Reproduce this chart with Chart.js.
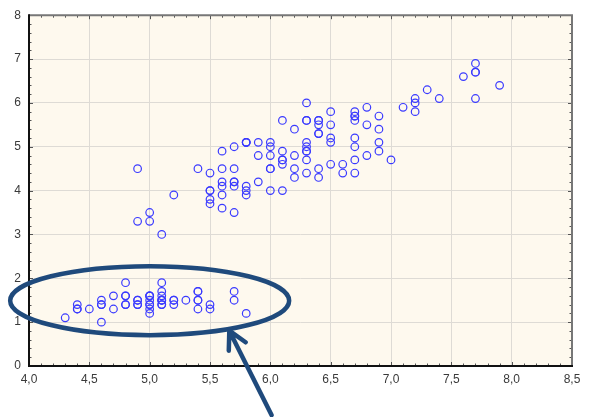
<!DOCTYPE html>
<html>
<head>
<meta charset="utf-8">
<script src="https://cdn.jsdelivr.net/npm/chart.js@4"></script>
<style>
  html, body { margin: 0; padding: 0; background: #ffffff; }
  #wrap { width: 591px; height: 417px; position: relative; }
</style>
</head>
<body>
<div id="wrap"><canvas id="grafico"></canvas></div>
<script>
// Iris: longitud del sépalo (x) y del pétalo (y)
const longSepalo = [
  5.1, 4.9, 4.7, 4.6, 5.0, 5.4, 4.6, 5.0, 4.4, 4.9, 5.4, 4.8, 4.8, 4.3, 5.8, 5.7, 5.4, 5.1, 5.7, 5.1,
  5.4, 5.1, 4.6, 5.1, 4.8, 5.0, 5.0, 5.2, 5.2, 4.7, 4.8, 5.4, 5.2, 5.5, 4.9, 5.0, 5.5, 4.9, 4.4, 5.1,
  5.0, 4.5, 4.4, 5.0, 5.1, 4.8, 5.1, 4.6, 5.3, 5.0,
  7.0, 6.4, 6.9, 5.5, 6.5, 5.7, 6.3, 4.9, 6.6, 5.2, 5.0, 5.9, 6.0, 6.1, 5.6, 6.7, 5.6, 5.8, 6.2, 5.6,
  5.9, 6.1, 6.3, 6.1, 6.4, 6.6, 6.8, 6.7, 6.0, 5.7, 5.5, 5.5, 5.8, 6.0, 5.4, 6.0, 6.7, 6.3, 5.6, 5.5,
  5.5, 6.1, 5.8, 5.0, 5.6, 5.7, 5.7, 6.2, 5.1, 5.7,
  6.3, 5.8, 7.1, 6.3, 6.5, 7.6, 4.9, 7.3, 6.7, 7.2, 6.5, 6.4, 6.8, 5.7, 5.8, 6.4, 6.5, 7.7, 7.7, 6.0,
  6.9, 5.6, 7.7, 6.3, 6.7, 7.2, 6.2, 6.1, 6.4, 7.2, 7.4, 7.9, 6.4, 6.3, 6.1, 7.7, 6.3, 6.4, 6.0, 6.9,
  6.7, 6.9, 5.8, 6.8, 6.7, 6.7, 6.3, 6.5, 6.2, 5.9
];
const longPetalo = [
  1.4, 1.4, 1.3, 1.5, 1.4, 1.7, 1.4, 1.5, 1.4, 1.5, 1.5, 1.6, 1.4, 1.1, 1.2, 1.5, 1.3, 1.4, 1.7, 1.5,
  1.7, 1.5, 1.0, 1.7, 1.9, 1.6, 1.6, 1.5, 1.4, 1.6, 1.6, 1.5, 1.5, 1.4, 1.5, 1.2, 1.3, 1.4, 1.3, 1.5,
  1.3, 1.3, 1.3, 1.6, 1.9, 1.4, 1.6, 1.4, 1.5, 1.4,
  4.7, 4.5, 4.9, 4.0, 4.6, 4.5, 4.7, 3.3, 4.6, 3.9, 3.5, 4.2, 4.0, 4.7, 3.6, 4.4, 4.5, 4.1, 4.5, 3.9,
  4.8, 4.0, 4.9, 4.7, 4.3, 4.4, 4.8, 5.0, 4.5, 3.5, 3.8, 3.7, 3.9, 5.1, 4.5, 4.5, 4.7, 4.4, 4.1, 4.0,
  4.4, 4.6, 4.0, 3.3, 4.2, 4.2, 4.2, 4.3, 3.0, 4.1,
  6.0, 5.1, 5.9, 5.6, 5.8, 6.6, 4.5, 6.3, 5.8, 6.1, 5.1, 5.3, 5.5, 5.0, 5.1, 5.3, 5.5, 6.7, 6.9, 5.0,
  5.7, 4.9, 6.7, 4.9, 5.7, 6.0, 4.8, 4.9, 5.6, 5.8, 6.1, 6.4, 5.6, 5.1, 5.6, 6.1, 5.6, 5.5, 4.8, 5.4,
  5.6, 5.1, 5.1, 5.9, 5.7, 5.2, 5.0, 5.2, 5.4, 5.1
];
const ticksX = [4.0, 4.5, 5.0, 5.5, 6.0, 6.5, 7.0, 7.5, 8.0, 8.5];
const ticksY = [0, 1, 2, 3, 4, 5, 6, 7, 8];

// Anotación: elipse alrededor del grupo inferior y flecha
const elipse = { cx: 5.0, cy: 1.49, rx: 1.156, ry: 0.786 };
const flecha = { desde: [6.01, -1.12], hasta: [5.66, 0.805] };

const puntos = longSepalo.map((x, i) => ({ x: x, y: longPetalo[i] }));

const coma = v => v.toFixed(1).replace('.', ',');

const marco = {
  id: 'marco',
  beforeDraw(chart) {
    const { ctx, chartArea: a } = chart;
    ctx.save();
    ctx.fillStyle = '#fef9ee';
    ctx.fillRect(a.left, a.top, a.right - a.left, a.bottom - a.top);
    ctx.restore();
  },
  afterDatasetsDraw(chart) {
    const { ctx, chartArea: a, scales } = chart;
    const sx = scales.x, sy = scales.y;
    ctx.save();
    // marcas menores
    ctx.lineWidth = 1;
    ctx.strokeStyle = '#555555';
    for (let i = 40; i <= 85; i++) {
      const px = Math.round(sx.getPixelForValue(i / 10)) + 0.5;
      const len = i % 5 === 0 ? 4 : 2.5;
      ctx.beginPath();
      ctx.moveTo(px, a.bottom); ctx.lineTo(px, a.bottom - len);
      ctx.moveTo(px, a.top); ctx.lineTo(px, a.top + len);
      ctx.stroke();
    }
    for (let i = 0; i <= 40; i++) {
      const py = Math.round(sy.getPixelForValue(i / 5)) + 0.5;
      const len = i % 5 === 0 ? 4 : 2.5;
      ctx.beginPath();
      ctx.moveTo(a.left, py); ctx.lineTo(a.left + len, py);
      ctx.moveTo(a.right, py); ctx.lineTo(a.right - len, py);
      ctx.stroke();
    }
    // marco superior y derecho gris
    ctx.lineWidth = 2;
    ctx.strokeStyle = '#777777';
    ctx.beginPath();
    ctx.moveTo(a.left, a.top); ctx.lineTo(a.right, a.top); ctx.lineTo(a.right, a.bottom);
    ctx.stroke();
    // ejes izquierdo e inferior negros
    ctx.strokeStyle = '#111111';
    ctx.beginPath();
    ctx.moveTo(a.left, a.top - 1); ctx.lineTo(a.left, a.bottom); ctx.lineTo(a.right + 1, a.bottom);
    ctx.stroke();
    ctx.restore();
  },
  afterDraw(chart) {
    const { ctx, scales } = chart;
    const sx = scales.x, sy = scales.y;
    ctx.save();
    ctx.strokeStyle = '#1f4a7c';
    ctx.lineWidth = 4.5;
    ctx.lineCap = 'round';
    ctx.lineJoin = 'round';
    // elipse
    const cx = sx.getPixelForValue(elipse.cx), cy = sy.getPixelForValue(elipse.cy);
    const rx = sx.getPixelForValue(elipse.cx + elipse.rx) - cx;
    const ry = cy - sy.getPixelForValue(elipse.cy + elipse.ry);
    ctx.beginPath();
    ctx.ellipse(cx, cy, rx, ry, 0, 0, Math.PI * 2);
    ctx.stroke();
    // flecha
    const x0 = sx.getPixelForValue(flecha.desde[0]), y0 = sy.getPixelForValue(flecha.desde[1]);
    const x1 = sx.getPixelForValue(flecha.hasta[0]), y1 = sy.getPixelForValue(flecha.hasta[1]);
    const ang = Math.atan2(y0 - y1, x0 - x1);
    const largo = 20, abre = 0.49;
    ctx.beginPath();
    ctx.moveTo(x0, y0); ctx.lineTo(x1, y1);
    ctx.moveTo(x1 + largo * Math.cos(ang + abre), y1 + largo * Math.sin(ang + abre));
    ctx.lineTo(x1, y1);
    ctx.lineTo(x1 + largo * Math.cos(ang - abre), y1 + largo * Math.sin(ang - abre));
    ctx.stroke();
    ctx.restore();
  }
};

const fuente = { family: '"Liberation Sans", Arial, sans-serif', size: 12 };

new Chart(document.getElementById('grafico'), {
  type: 'scatter',
  data: {
    datasets: [{
      data: puntos,
      pointStyle: 'circle',
      pointRadius: 3.8,
      pointBorderWidth: 1.2,
      borderColor: '#3a3aff',
      backgroundColor: 'rgba(0,0,0,0)',
      clip: false
    }]
  },
  options: {
    responsive: true,
    maintainAspectRatio: false,
    animation: false,
    layout: { padding: { top: 15, right: 19, left: 0, bottom: 0 } },
    plugins: { legend: { display: false }, tooltip: { enabled: false } },
    scales: {
      x: {
        type: 'linear',
        min: 4, max: 8.5,
        afterBuildTicks: s => { s.ticks = ticksX.map(v => ({ value: v })); },
        afterFit: s => { s.height = 51; },
        grid: { color: '#dedbd5', drawTicks: false },
        border: { display: false },
        ticks: { callback: v => coma(v), padding: 6, color: '#3a3a3a', font: fuente, maxRotation: 0, autoSkip: false }
      },
      y: {
        type: 'linear',
        min: 0, max: 8,
        afterBuildTicks: s => { s.ticks = ticksY.map(v => ({ value: v })); },
        afterFit: s => { s.width = 29; },
        grid: { color: '#dedbd5', drawTicks: false },
        border: { display: false },
        ticks: { padding: 8, color: '#3a3a3a', font: fuente, autoSkip: false }
      }
    }
  },
  plugins: [marco]
});
</script>
</body>
</html>
